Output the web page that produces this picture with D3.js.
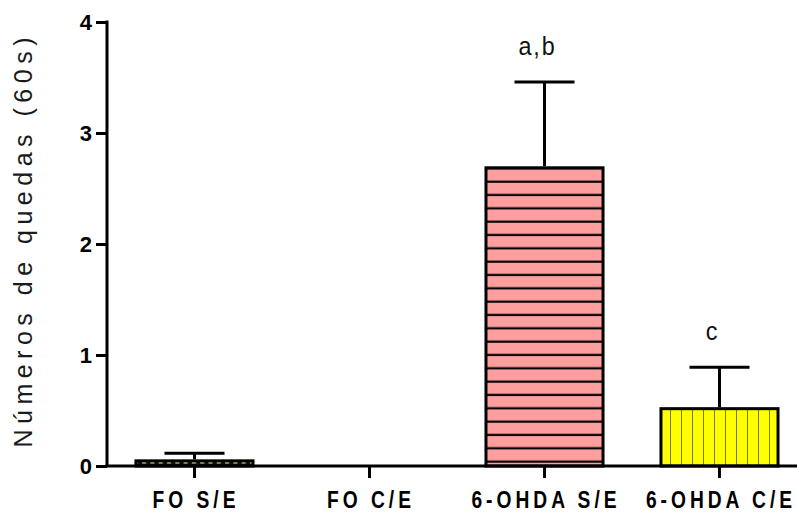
<!DOCTYPE html>
<html><head><meta charset="utf-8">
<script src="https://cdn.jsdelivr.net/npm/d3@7"></script>
<style>
html,body{margin:0;padding:0;background:#fff;}
svg{display:block;}
</style></head>
<body>
<svg id="chart" width="797" height="518"></svg>
<script>
const categories = ["FO S/E", "FO C/E", "6-OHDA S/E", "6-OHDA C/E"];
const means = [0.06, 0, 2.70, 0.53];
const errors = [0.055, 0, 0.76, 0.36];
const annotations = ["", "", "a,b", "c"];
const yTicks = [0, 1, 2, 3, 4];
const yTitle = "Números de quedas (60s)";

const svg = d3.select("#chart");
const mLeft = 107, mRight = 807, mTop = 22, mBottom = 466;

const x = d3.scaleBand().domain(categories).range([mLeft, mRight]).paddingInner(0.314).paddingOuter(0.157);
const y = d3.scaleLinear().domain([0, 4]).range([mBottom, mTop]);

const defs = svg.append("defs");
// horizontal stripes (pink)
const hs = 13.33;
const py = y(0) % hs;
const p1 = defs.append("pattern").attr("id", "hstripe").attr("patternUnits", "userSpaceOnUse")
  .attr("width", 20).attr("height", hs);
p1.append("rect").attr("width", 20).attr("height", hs).attr("fill", "#FF9E9E");
p1.append("rect").attr("x", 0).attr("y", (py - 5.5 + hs) % hs).attr("width", 20).attr("height", 2.2).attr("fill", "#000");
// vertical stripes (yellow)
const vs = 11;
const px = (x("6-OHDA C/E")) % vs;
const p2 = defs.append("pattern").attr("id", "vstripe").attr("patternUnits", "userSpaceOnUse")
  .attr("width", vs).attr("height", 20);
p2.append("rect").attr("width", vs).attr("height", 20).attr("fill", "#FFFF00");
p2.append("rect").attr("x", px).attr("y", 0).attr("width", 2.2).attr("height", 20).attr("fill", "#000");
// dotted (FO S/E)
const p3 = defs.append("pattern").attr("id", "dots").attr("patternUnits", "userSpaceOnUse")
  .attr("width", 8.3).attr("height", 8);
p3.append("rect").attr("width", 8.3).attr("height", 8).attr("fill", "#111");
p3.append("rect").attr("x", 1).attr("y", (y(0) - 4) % 8).attr("width", 4).attr("height", 1.6).attr("fill", "#c8bf84");

const fills = ["url(#dots)", "#fff", "url(#hstripe)", "url(#vstripe)"];

const data = categories.map((c, i) => ({c, m: means[i], e: errors[i], a: annotations[i], f: fills[i]}));

// error bars
const eb = svg.append("g");
data.filter(d => d.e > 0).forEach(d => {
  const cx = x(d.c) + x.bandwidth() / 2;
  eb.append("line").attr("x1", cx).attr("x2", cx).attr("y1", y(d.m)).attr("y2", y(d.m + d.e))
    .attr("stroke", "#000").attr("stroke-width", 3);
  eb.append("line").attr("x1", cx - x.bandwidth() / 4).attr("x2", cx + x.bandwidth() / 4)
    .attr("y1", y(d.m + d.e)).attr("y2", y(d.m + d.e))
    .attr("stroke", "#000").attr("stroke-width", 3);
});

// bars
svg.append("g").selectAll("rect").data(data.filter(d => d.m > 0)).join("rect")
  .attr("x", d => x(d.c) + 1.5)
  .attr("width", x.bandwidth() - 3)
  .attr("y", d => y(d.m) + 1.5)
  .attr("height", d => Math.max(0, y(0) - y(d.m) - 1.5))
  .attr("fill", d => d.f)
  .attr("stroke", "#000").attr("stroke-width", 3);

// annotations
svg.append("g").selectAll("text").data(data.filter(d => d.a)).join("text")
  .attr("transform", d => `translate(${x(d.c) + x.bandwidth() / 2 - 7},${y(d.m + d.e) - 27}) scale(0.9,1)`)
  .attr("text-anchor", "middle")
  .attr("font-family", "'Liberation Sans', Arial, sans-serif")
  .attr("font-size", 26)
  .attr("letter-spacing", 2)
  .attr("fill", "#111")
  .text(d => d.a);

// y axis
const yAxis = svg.append("g").attr("transform", `translate(${mLeft},0)`)
  .call(d3.axisLeft(y).tickValues(yTicks).tickFormat(d3.format("d")).tickSize(11).tickPadding(4));
yAxis.select(".domain").attr("stroke", "#000").attr("stroke-width", 3).attr("d", `M0,${y(4) - 1.5}V${y(0)}`);
yAxis.selectAll(".tick line").attr("stroke", "#000").attr("stroke-width", 3);
yAxis.selectAll(".tick text").attr("font-family", "'Liberation Sans', Arial, sans-serif")
  .attr("font-weight", "bold").attr("font-size", 22).attr("fill", "#000");

// x axis
const xAxis = svg.append("g").attr("transform", `translate(0,${mBottom})`)
  .call(d3.axisBottom(x).tickSize(12).tickPadding(13));
xAxis.select(".domain").attr("stroke", "#000").attr("stroke-width", 3).attr("d", `M${mLeft - 1.5},0H${mRight}`);
xAxis.selectAll(".tick line").attr("stroke", "#000").attr("stroke-width", 3);
xAxis.selectAll(".tick text").attr("font-family", "'Liberation Sans', Arial, sans-serif")
  .attr("font-weight", "bold").attr("font-size", 24).attr("fill", "#000")
  .attr("letter-spacing", 5)
  .attr("transform", "translate(1.5,0) scale(0.8,1)");

// y title
svg.append("text")
  .attr("transform", `translate(32,${(y(0) + 18) / 2 - 2.2}) rotate(-90)`)
  .attr("text-anchor", "middle")
  .attr("font-family", "'Liberation Sans', Arial, sans-serif")
  .attr("font-size", 25)
  .attr("letter-spacing", 5.5)
  .attr("fill", "#1a1a1a")
  .text(yTitle);
</script>
</body></html>
